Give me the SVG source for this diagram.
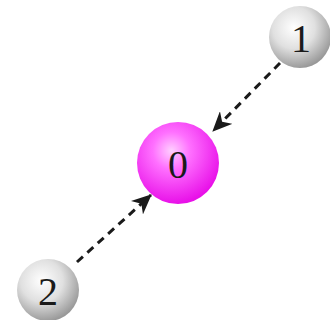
<svg xmlns="http://www.w3.org/2000/svg" width="330" height="320" viewBox="0 0 330 320">
<style>
.lbl{font-family:"Liberation Serif","DejaVu Serif",serif;font-size:40px;fill:#1a1a1a;text-anchor:middle}
.edge{stroke:#1a1a1a;stroke-width:3;stroke-dasharray:8,6;fill:none}
</style>
<defs>
<radialGradient id="gMag" cx="0.42" cy="0.35" r="0.65">
<stop offset="0" stop-color="#ffd0ff"/>
<stop offset="0.35" stop-color="#ff70ff"/>
<stop offset="1" stop-color="#e810e8"/>
</radialGradient>
<radialGradient id="gGray" cx="0.4" cy="0.35" r="0.68">
<stop offset="0" stop-color="#ffffff"/>
<stop offset="0.5" stop-color="#e0e0e0"/>
<stop offset="1" stop-color="#959595"/>
</radialGradient>
<marker id="arr" viewBox="0 0 20 18" refX="19" refY="9" markerWidth="20" markerHeight="18" markerUnits="userSpaceOnUse" orient="auto">
<path d="M0,0 L20,9 L0,18 L6,9 Z" fill="#1a1a1a"/>
</marker>
</defs>
<g id="connectors">
<line class="edge" x1="280" y1="63" x2="213" y2="131" marker-end="url(#arr)"/>
<line class="edge" x1="77" y1="262" x2="151" y2="195" marker-end="url(#arr)"/>
</g>
<g id="node0">
<circle cx="178" cy="163" r="41" fill="url(#gMag)"/>
<text class="lbl" x="178" y="178">0</text>
</g>
<g id="node1">
<circle cx="300" cy="37" r="31" fill="url(#gGray)"/>
<text class="lbl" x="301" y="52">1</text>
</g>
<g id="node2">
<circle cx="48" cy="290" r="31" fill="url(#gGray)"/>
<text class="lbl" x="48" y="305">2</text>
</g>
</svg>
